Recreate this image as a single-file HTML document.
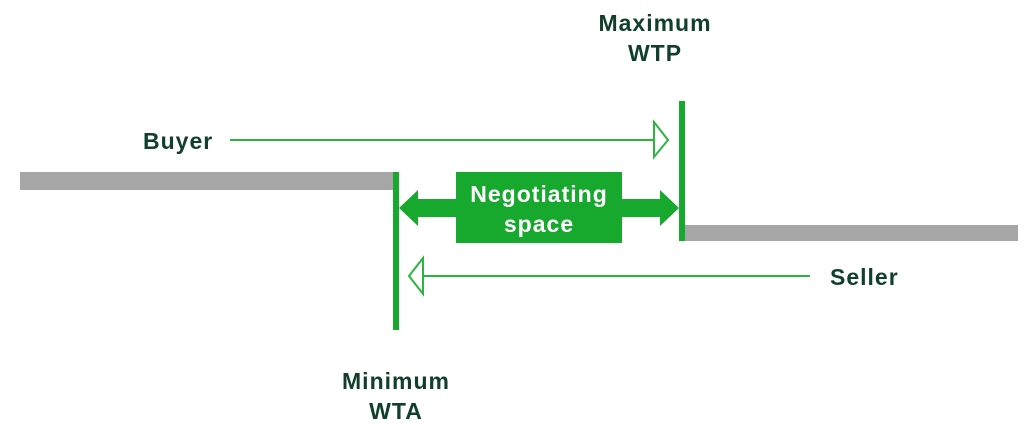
<!DOCTYPE html>
<html><head><style>
html,body{margin:0;padding:0;background:#fff;}
body{width:1024px;height:436px;overflow:hidden;position:relative;}
svg{position:absolute;left:0;top:0;}
text{font-family:"Liberation Sans",sans-serif;font-weight:bold;letter-spacing:1px;}
</style></head><body>
<svg width="1024" height="436" viewBox="0 0 1024 436">
<rect x="20" y="172" width="374" height="18" fill="#a6a6a6"/>
<rect x="684" y="225" width="334" height="16" fill="#a6a6a6"/>
<rect x="393" y="172" width="6" height="158" fill="#17a82e"/>
<rect x="679" y="101" width="6" height="140" fill="#17a82e"/>
<line x1="230" y1="140" x2="654" y2="140" stroke="#2bb540" stroke-width="2"/>
<polygon points="654,122 668,140 654,157" fill="#fff" stroke="#2bb540" stroke-width="2"/>
<line x1="424" y1="276" x2="810" y2="276" stroke="#2bb540" stroke-width="2"/>
<polygon points="423,258 409,276 423,294" fill="#fff" stroke="#2bb540" stroke-width="2"/>
<rect x="456" y="172" width="166" height="71" fill="#17a82e"/>
<polygon points="399,208 418,190 418,199 460,199 460,217 418,217 418,226" fill="#17a82e"/>
<polygon points="679,208 660,190 660,199 618,199 618,217 660,217 660,226" fill="#17a82e"/>
<g fill="#fff" font-size="23" text-anchor="middle">
<text x="539" y="202">Negotiating</text>
<text x="539" y="232">space</text>
</g>
<g fill="#103f2c" font-size="23">
<text x="655" y="31" text-anchor="middle">Maximum</text>
<text x="655" y="61" text-anchor="middle">WTP</text>
<text x="143" y="149">Buyer</text>
<text x="830" y="285">Seller</text>
<text x="396" y="389" text-anchor="middle">Minimum</text>
<text x="396" y="419" text-anchor="middle">WTA</text>
</g>
</svg>
</body></html>
